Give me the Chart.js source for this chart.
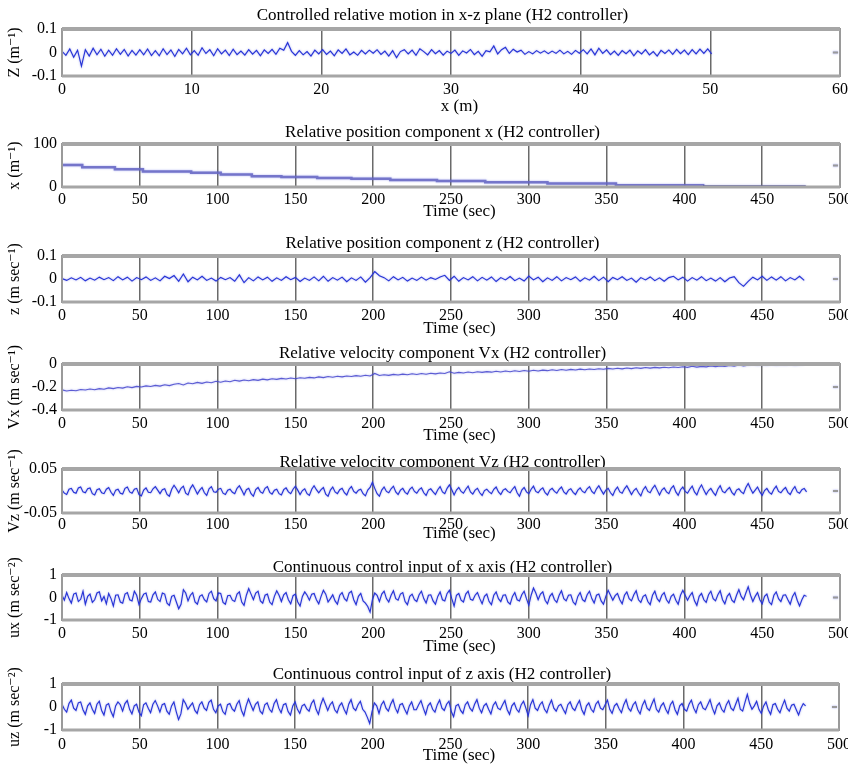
<!DOCTYPE html>
<html>
<head>
<meta charset="utf-8">
<title>H2 controller - relative motion</title>
<script src="https://cdn.jsdelivr.net/npm/chart.js@4.4.1/dist/chart.umd.min.js"></script>
<style>
    html, body { margin: 0; padding: 0; background: #fff; overflow: hidden; }
    #page { position: relative; width: 848px; height: 768px; overflow: hidden; }
    .panel { position: absolute; left: 0; }
</style>
</head>
<body>
<div id="page"></div>
<script>
// ---------------------------------------------------------------------------
// Data
// ---------------------------------------------------------------------------
const X_STEP = 0.3;       // spacing of samples along x (m) in the top plot
const T_STEP = 3;         // spacing of samples in time (sec), coarse series
const T_STEP_FINE = 1.5;  // spacing of samples in time (sec), dense series

// Z versus x, top plot
const zMotion = [
    0.005, -0.012, 0.015, -0.02, 0.01, -0.058, 0.012, -0.015, 0.018, -0.01,
    0.014, -0.016, 0.01, -0.012, 0.016, -0.008, 0.013, -0.015, 0.009, -0.011,
    0.012, -0.01, 0.015, -0.013, 0.008, -0.014, 0.016, -0.009, 0.011, -0.017,
    0.013, -0.006, 0.018, -0.01, 0.008, -0.012, 0.02, -0.004, 0.012, -0.014,
    0.016, -0.006, 0.01, -0.013, 0.014, -0.009, 0.006, -0.011, 0.012, -0.007,
    0.009, -0.014, 0.011, -0.004, 0.013, -0.008, 0.018, 0.01, 0.042, 0.005,
    -0.012, 0.008, -0.01, 0.004, -0.015, 0.01, -0.006, 0.012, -0.008, 0.006,
    -0.014, 0.011, -0.004, 0.015, -0.01, 0.002, -0.012, 0.009, -0.006, 0.01,
    -0.003, 0.012, -0.008, 0.006, -0.015, 0.008, -0.022, 0.004, 0.012, -0.006,
    0.01, -0.012, 0.016, 0.004, -0.01, 0.012, -0.005, 0.008, -0.011, 0.006,
    -0.004, 0.01, -0.012, 0.007, -0.002, 0.013, -0.009, 0.005, -0.016, 0.008,
    0.003, 0.028, -0.006, 0.012, 0.022, -0.004, 0.014, 0.002, 0.01, -0.008,
    0.004, -0.006, 0.008, -0.003, 0.007, -0.005, 0.006, -0.004, 0.01, -0.006,
    0.005, -0.008, 0.009, -0.003, 0.012, -0.006, 0.015, -0.01, 0.018, -0.004,
    0.011, -0.009, 0.006, -0.012, 0.008, -0.005, 0.01, -0.014, 0.007, -0.006,
    0.012, -0.01, 0.004, -0.015, 0.009, -0.004, 0.011, -0.008, 0.013, -0.005,
    0.01, -0.009, 0.012, -0.006, 0.014, -0.004, 0.015, -0.006
];

// relative position x: level changes (sec) and levels
const posTime = [0, 13, 34, 52, 83, 102, 122, 141, 164, 186, 211, 241, 272, 312, 356, 412, 478];
const posX    = [51, 46, 41, 36, 33, 29, 25, 23, 21, 19, 16, 14, 11, 8, 4, 0.5, 0.5];

// relative position z (every 3 s)
const posZ = [
    0.002, -0.006, 0.005, -0.004, 0.007, -0.008, 0.004, -0.005, 0.008, -0.003,
    0.006, -0.007, 0.01, -0.004, 0.008, -0.009, 0.006, -0.003, 0.009, -0.006,
    0.005, -0.008, 0.012, 0.002, 0.015, -0.01, 0.022, -0.012, 0.008, -0.004,
    0.012, -0.006, 0.004, -0.009, 0.007, -0.003, 0.006, -0.01, 0.018, -0.016,
    0.006, -0.008, 0.009, -0.004, 0.008, -0.01, 0.005, -0.006, 0.01, -0.003,
    0.007, -0.011, 0.004, -0.006, 0.009, -0.008, 0.012, -0.01, 0.006, -0.005,
    0.008, -0.012, 0.005, -0.006, 0.009, -0.014, 0.006, 0.032, 0.014, 0.006,
    -0.008, 0.01, -0.004, 0.007, -0.009, 0.004, -0.006, 0.008, -0.005, 0.006,
    -0.002, 0.009, 0.016, -0.006, 0.012, -0.01, 0.006, -0.004, 0.01, -0.008,
    0.007, -0.005, 0.009, -0.011, 0.006, -0.004, 0.011, -0.007, 0.004, -0.009,
    0.013, -0.004, 0.008, -0.012, 0.005, -0.006, 0.01, -0.008, 0.006, -0.003,
    0.009, -0.01, 0.005, -0.005, 0.012, -0.007, 0.008, -0.012, 0.007, -0.003,
    0.01, -0.006, 0.004, -0.014, 0.006, -0.004, 0.009, -0.007, 0.005, -0.01,
    0.006, 0.012, -0.004, 0.008, -0.009, 0.006, -0.005, 0.01, -0.007, 0.004,
    -0.009, 0.006, -0.012, 0.004, 0.01, -0.016, -0.032, -0.01, 0.008, -0.004,
    0.012, -0.006, 0.009, -0.005, 0.01, -0.008, 0.006, -0.004, 0.012, -0.006
];

// relative velocity Vx (every 3 s)
const velX = [
    -0.225, -0.235, -0.228, -0.232, -0.222, -0.226, -0.218, -0.224, -0.214, -0.22,
    -0.208, -0.214, -0.204, -0.21, -0.198, -0.205, -0.195, -0.2, -0.19, -0.196,
    -0.186, -0.192, -0.18, -0.188, -0.176, -0.17, -0.182, -0.165, -0.172, -0.16,
    -0.168, -0.157, -0.163, -0.15, -0.158, -0.148, -0.154, -0.142, -0.149, -0.139,
    -0.146, -0.136, -0.142, -0.132, -0.138, -0.128, -0.134, -0.125, -0.131, -0.122,
    -0.128, -0.119, -0.124, -0.116, -0.121, -0.112, -0.118, -0.109, -0.115, -0.106,
    -0.112, -0.104, -0.109, -0.101, -0.106, -0.098, -0.104, -0.082, -0.1, -0.094,
    -0.099, -0.09, -0.096, -0.088, -0.093, -0.085, -0.091, -0.083, -0.089, -0.08,
    -0.086, -0.078, -0.083, -0.068, -0.08, -0.073, -0.078, -0.07, -0.076, -0.068,
    -0.073, -0.066, -0.071, -0.063, -0.069, -0.061, -0.067, -0.059, -0.065, -0.057,
    -0.063, -0.055, -0.061, -0.053, -0.058, -0.05, -0.056, -0.048, -0.054, -0.047,
    -0.052, -0.045, -0.05, -0.043, -0.048, -0.041, -0.046, -0.038, -0.044, -0.037,
    -0.042, -0.035, -0.04, -0.033, -0.038, -0.031, -0.036, -0.029, -0.034, -0.028,
    -0.032, -0.026, -0.03, -0.024, -0.029, -0.02, -0.027, -0.021, -0.025, -0.018,
    -0.023, -0.016, -0.021, -0.012, -0.019, -0.008, -0.016, -0.01, -0.004, -0.012,
    -0.006, -0.013, -0.005, -0.012, -0.006, -0.011, -0.005, -0.012, -0.007, -0.004
];

// relative velocity Vz (every 1.5 s)
const velZ = [
    0.002, -0.005, -0.008, 0.004, 0.006, -0.003, -0.005, 0.007, 0.009, -0.002, -0.004, 0.005, 0.007, -0.006, -0.009, 0.003, 0.005, -0.004, -0.006, 0.004,
    0.008, -0.003, -0.01, 0.002, 0.004, -0.005, -0.007, 0.006, 0.009, -0.002, -0.005, 0.004, 0.006, -0.008, -0.011, 0.002, 0.007, -0.003, -0.004, 0.005,
    0.01, 0.002, -0.006, 0.003, 0.005, -0.008, -0.012, 0.004, 0.013, 0.005, -0.004, 0.006, 0.011, -0.005, -0.009, 0.006, 0.014, 0.004, -0.007, 0.002,
    0.008, -0.004, -0.01, 0.005, 0.01, -0.002, -0.003, 0.004, 0.006, -0.005, -0.008, 0.002, 0.004, -0.003, -0.006, 0.006, 0.012, 0.002, -0.009, 0.003,
    0.006, -0.006, -0.012, 0.003, 0.008, -0.002, -0.005, 0.006, 0.01, -0.003, -0.007, 0.002, 0.004, -0.006, -0.009, 0.003, 0.007, -0.002, -0.006, 0.004,
    0.011, 0.002, -0.008, 0.001, 0.005, -0.006, -0.01, 0.004, 0.012, 0.003, -0.004, 0.003, 0.008, -0.007, -0.012, 0.002, 0.009, -0.002, -0.006, 0.003,
    0.006, -0.004, -0.009, 0.004, 0.01, -0.001, -0.005, 0.002, 0.004, -0.006, -0.011, 0.002, 0.008, 0.02, 0.006, -0.006, -0.012, 0.002, 0.009, -0.001,
    -0.004, 0.005, 0.011, -0.002, -0.008, 0.002, 0.006, -0.003, -0.007, 0.004, 0.009, -0.001, -0.005, 0.003, 0.007, -0.004, -0.01, 0.002, 0.005, -0.002,
    -0.008, 0.003, 0.01, -0.002, -0.006, 0.006, 0.014, 0.003, -0.009, 0.002, 0.008, -0.001, -0.005, 0.004, 0.011, -0.002, -0.007, 0.002, 0.006, -0.004,
    -0.01, 0.001, 0.004, -0.002, -0.006, 0.004, 0.009, -0.002, -0.008, 0.002, 0.005, -0.001, -0.004, 0.004, 0.01, -0.004, -0.012, 0.002, 0.008, -0.002,
    -0.006, 0.004, 0.011, -0.001, -0.004, 0.003, 0.007, -0.004, -0.009, 0.002, 0.006, -0.001, -0.005, 0.004, 0.009, -0.002, -0.007, 0.002, 0.005, -0.003,
    -0.008, 0.002, 0.007, -0.001, -0.004, 0.005, 0.01, -0.001, -0.006, 0.005, 0.012, 0.002, -0.007, 0.002, 0.006, -0.004, -0.01, 0.002, 0.009, -0.002,
    -0.005, 0.005, 0.012, 0.002, -0.008, 0.001, 0.006, -0.004, -0.011, 0.003, 0.01, -0.001, -0.004, 0.006, 0.013, 0.002, -0.009, 0.002, 0.007, -0.002,
    -0.006, 0.006, 0.012, -0.002, -0.01, 0.003, 0.009, -0.001, -0.005, 0.004, 0.011, -0.002, -0.009, 0.005, 0.014, 0.002, -0.008, 0.001, 0.006, -0.003,
    -0.01, 0.004, 0.012, -0.001, -0.004, 0.003, 0.008, -0.003, -0.009, 0.002, 0.005, -0.002, -0.006, 0.008, 0.017, 0.005, -0.005, 0.002, 0.009, -0.002,
    -0.01, 0.001, 0.006, -0.003, -0.007, 0.004, 0.011, -0.001, -0.004, 0.003, 0.008, -0.003, -0.008, 0.003, 0.01, -0.002, -0.005, 0.003, 0.006, -0.002
];

// continuous control input, x axis (every 1.5 s)
const ctrlX = [
    0.1, -0.12, 0.22, -0.05, -0.25, 0.15, 0.2, -0.18, -0.08, 0.28, -0.3, 0.05, 0.15, -0.22, -0.1, 0.2, 0.25, -0.15, 0.05, -0.28,
    0.18, -0.05, -0.38, 0.1, 0.12, -0.2, -0.25, 0.15, 0.22, -0.1, -0.15, 0.28, 0.1, -0.32, -0.05, 0.15, 0.2, -0.18, -0.2, 0.12,
    0.25, -0.08, -0.18, 0.2, 0.15, -0.25, -0.35, 0.05, 0.1, -0.2, -0.5, -0.3, 0.35, 0.2, -0.15, 0.1, 0.22, -0.2, -0.3, 0.05,
    0.12, -0.1, -0.2, 0.18, 0.28, -0.05, -0.15, 0.2, 0.18, -0.22, -0.3, 0.08, 0.1, -0.12, -0.18, 0.15, 0.25, -0.2, -0.35, 0.1,
    0.4, 0.15, -0.1, 0.2, 0.28, -0.15, -0.25, 0.1, 0.15, -0.2, -0.32, 0.05, 0.3, 0.1, -0.18, 0.12, 0.22, -0.1, -0.28, 0.08,
    0.15, -0.2, -0.38, 0.05, 0.25, 0.1, -0.12, 0.15, 0.18, -0.1, -0.28, 0.05, 0.32, 0.15, -0.2, -0.05, 0.12, -0.15, -0.3, 0.1,
    0.22, -0.05, -0.15, 0.2, 0.28, -0.1, -0.32, 0.05, 0.18, -0.15, -0.25, -0.4, -0.65, -0.1, 0.2, 0.1, -0.18, 0.15, 0.28, -0.05,
    -0.2, 0.1, 0.3, -0.05, -0.12, 0.15, 0.22, -0.18, -0.32, 0.05, 0.15, -0.1, -0.18, 0.12, 0.28, -0.05, -0.25, 0.1, 0.12, -0.15,
    -0.3, 0.05, 0.25, -0.1, -0.15, 0.18, 0.32, -0.05, -0.38, 0.1, 0.18, -0.12, -0.2, 0.15, 0.28, -0.08, -0.12, 0.1, 0.22, -0.05,
    -0.28, 0.05, 0.15, -0.18, -0.32, 0.1, 0.25, -0.05, -0.18, 0.1, 0.12, -0.2, -0.3, 0.05, 0.22, -0.1, -0.15, 0.12, 0.28, -0.05,
    -0.35, 0.1, 0.42, 0.2, -0.1, 0.15, 0.25, -0.12, -0.28, 0.05, 0.18, -0.1, -0.22, 0.1, 0.3, -0.05, -0.15, 0.1, 0.12, -0.2,
    -0.32, 0.05, 0.22, -0.1, -0.18, 0.12, 0.28, -0.05, -0.25, 0.1, 0.15, -0.15, -0.3, 0.05, 0.32, 0.1, -0.12, 0.08, 0.18, -0.1,
    -0.28, 0.1, 0.25, -0.05, -0.15, 0.12, 0.3, -0.1, -0.22, 0.05, 0.12, -0.18, -0.32, 0.1, 0.28, -0.05, -0.18, 0.1, 0.22, -0.1,
    -0.25, 0.05, 0.15, -0.12, -0.3, 0.1, 0.32, 0.1, -0.12, 0.08, 0.22, -0.15, -0.35, 0.05, 0.18, -0.1, -0.22, 0.12, 0.28, -0.05,
    -0.15, 0.12, 0.3, -0.1, -0.28, 0.05, 0.18, -0.12, -0.22, 0.1, 0.35, 0.05, -0.1, 0.2, 0.48, 0.1, -0.18, 0.05, 0.22, -0.1,
    -0.28, 0.05, 0.15, -0.2, -0.32, 0.1, 0.25, -0.05, -0.18, 0.1, 0.12, -0.1, -0.3, 0.05, 0.22, -0.12, -0.38, -0.1, 0.1, 0.05
];

// continuous control input, z axis (every 1.5 s)
const ctrlZ = [
    0.12, -0.1, -0.22, 0.15, 0.3, -0.05, -0.15, 0.18, 0.22, -0.12, -0.32, 0.05, 0.18, -0.1, -0.28, 0.12, 0.25, -0.15, -0.35, 0.08,
    0.15, -0.2, -0.42, 0.05, 0.22, 0.1, -0.18, 0.15, 0.28, -0.1, -0.3, 0.05, 0.12, -0.22, -0.38, 0.1, 0.18, -0.05, -0.25, 0.12,
    0.28, 0.05, -0.22, 0.1, 0.15, -0.18, -0.32, 0.05, 0.22, -0.2, -0.55, -0.3, 0.32, 0.15, -0.1, 0.05, 0.18, -0.15, -0.28, 0.1,
    0.22, -0.05, -0.15, 0.2, 0.3, -0.1, -0.25, 0.05, 0.12, -0.2, -0.32, 0.1, 0.15, -0.08, -0.18, 0.12, 0.28, -0.15, -0.38, 0.05,
    0.35, 0.1, -0.15, 0.12, 0.22, -0.18, -0.3, 0.1, 0.18, -0.1, -0.22, 0.15, 0.32, -0.05, -0.25, 0.1, 0.15, -0.2, -0.35, 0.05,
    0.22, -0.1, -0.28, 0.05, 0.12, -0.08, -0.18, 0.15, 0.3, -0.1, -0.32, 0.1, 0.38, 0.12, -0.15, 0.1, 0.22, -0.12, -0.25, 0.05,
    0.18, -0.1, -0.3, 0.12, 0.32, -0.05, -0.15, 0.1, 0.25, -0.1, -0.22, -0.45, -0.72, -0.2, 0.18, 0.05, -0.28, 0.1, 0.25, -0.05,
    -0.18, 0.12, 0.32, -0.05, -0.25, 0.1, 0.15, -0.1, -0.3, 0.05, 0.22, -0.12, -0.12, 0.1, 0.28, -0.05, -0.32, 0.05, 0.18, -0.1,
    -0.22, 0.1, 0.3, -0.05, -0.15, 0.12, 0.25, -0.2, -0.42, 0.05, 0.12, -0.15, -0.28, 0.1, 0.22, -0.05, -0.18, 0.12, 0.32, -0.05,
    -0.25, 0.05, 0.15, -0.1, -0.3, 0.08, 0.22, -0.05, -0.12, 0.1, 0.28, -0.12, -0.32, 0.05, 0.18, -0.1, -0.22, 0.1, 0.25, -0.05,
    -0.38, 0.1, 0.32, -0.05, -0.15, 0.1, 0.22, -0.1, -0.25, 0.08, 0.3, -0.05, -0.18, 0.05, 0.12, -0.1, -0.28, 0.1, 0.22, -0.05,
    -0.15, 0.1, 0.28, -0.12, -0.32, 0.05, 0.18, -0.1, -0.22, 0.12, 0.25, -0.05, -0.12, 0.1, 0.3, -0.1, -0.28, 0.05, 0.15, -0.08,
    -0.25, 0.1, 0.32, -0.05, -0.18, 0.1, 0.22, -0.12, -0.3, 0.08, 0.28, -0.05, -0.15, 0.12, 0.35, -0.1, -0.22, 0.05, 0.18, -0.1,
    -0.28, 0.1, 0.25, -0.12, -0.32, 0.05, 0.15, -0.1, -0.18, 0.12, 0.3, -0.05, -0.25, 0.1, 0.22, -0.05, -0.12, 0.1, 0.32, -0.05,
    -0.3, 0.05, 0.18, -0.1, -0.22, 0.1, 0.28, -0.05, -0.15, 0.12, 0.38, -0.1, -0.18, 0.2, 0.55, 0.15, -0.1, 0.05, 0.25, -0.1,
    -0.28, 0.05, 0.22, -0.12, -0.32, 0.1, 0.15, -0.1, -0.25, 0.05, 0.3, -0.05, -0.18, 0.08, 0.12, -0.12, -0.35, -0.05, 0.15, 0.05
];

// small gray dash near the right edge of every axes
const edgeMarkDist = [59.45, 59.85];
const edgeMarkTime = [495.5, 498.7];

// tick labels
const distTicks = [0, 10, 20, 30, 40, 50, 60];
const timeTicks = [0, 50, 100, 150, 200, 250, 300, 350, 400, 450, 500];
const tenthTicks = [-0.1, 0, 0.1];
const posXTicks = [0, 50, 100];
const velXTicks = [-0.4, -0.2, 0];
const velZTicks = [-0.05, 0, 0.05];
const unitTicks = [-1, 0, 1];

// ---------------------------------------------------------------------------
// Layout helpers
// ---------------------------------------------------------------------------
const SERIF = '"Liberation Serif", "Times New Roman", "DejaVu Serif", serif';
const TICK_SIZE = 16;
const TITLE_SIZE = 17;
const CANVAS_W = 856;
const PAD_RIGHT = 16;
const HEAD = 30;        // space above each plot box
const FOOT = 44;        // x-axis band below each plot box
const Y_BAND = 62;      // y-axis band to the left of each plot box
const LINE_BLUE = '#2633d6';
// titles sit a little left of the box centre, axis labels a little right
const NUDGE = '    ';

const toPoints = (xs, ys) => ys.map((y, i) => ({ x: xs[i], y: y }));
const stepGrid = (n, step) => Array.from({ length: n }, (_, i) => +(i * step).toFixed(3));

// soft halo on the traces, then a gray box around each axes
const framePlugin = {
    id: 'frame',
    beforeDatasetsDraw(chart) {
        const ctx = chart.ctx;
        ctx.save();
        ctx.shadowColor = 'rgba(50,60,220,0.5)';
        ctx.shadowBlur = 2;
    },
    afterDatasetsDraw(chart) {
        const { ctx, chartArea: a } = chart;
        ctx.restore();
        ctx.save();
        ctx.strokeStyle = '#9a9a9a';
        ctx.lineWidth = 2;
        ctx.strokeRect(a.left, a.top, a.right - a.left, a.bottom - a.top);
        ctx.strokeStyle = '#a6a6a6';
        ctx.lineWidth = 4;
        ctx.beginPath();
        ctx.moveTo(a.left, a.top);
        ctx.lineTo(a.right, a.top);
        ctx.stroke();
        ctx.lineWidth = 3;
        ctx.beginPath();
        ctx.moveTo(a.left, a.bottom);
        ctx.lineTo(a.right, a.bottom);
        ctx.stroke();
        ctx.restore();
    }
};

function makePanel(p) {
    const plotH = p.bottom - p.top;
    const height = HEAD + plotH + FOOT;

    const box = document.createElement('div');
    box.className = 'panel';
    box.style.top = (p.top - HEAD) + 'px';
    box.style.width = CANVAS_W + 'px';
    box.style.height = height + 'px';
    const canvas = document.createElement('canvas');
    canvas.width = CANVAS_W;
    canvas.height = height;
    box.appendChild(canvas);
    document.getElementById('page').appendChild(box);

    const titleLine = TITLE_SIZE * 0.8;
    const labelLine = TITLE_SIZE * 1.2;
    const titlePadBottom = Math.max(0, p.titleGap - titleLine / 2);
    const xMax = p.xTicks[p.xTicks.length - 1];
    const yMid = (p.yTicks[0] + p.yTicks[p.yTicks.length - 1]) / 2;
    const tickFont = { family: SERIF, size: TICK_SIZE, weight: 'normal' };
    const labelFont = { family: SERIF, size: TITLE_SIZE, weight: 'normal' };

    return new Chart(canvas, {
        type: 'line',
        data: {
            datasets: [
                Object.assign({
                    data: p.points,
                    borderColor: LINE_BLUE,
                    borderWidth: 1.1,
                    pointRadius: 0,
                    tension: 0
                }, p.lineStyle || {}),
                {
                    data: p.edgeMark.map(x => ({ x: x, y: yMid })),
                    borderColor: '#9a9a9a',
                    borderWidth: 2,
                    pointRadius: 0
                }
            ]
        },
        options: {
            responsive: false,
            animation: false,
            devicePixelRatio: 1,
            layout: { padding: { top: HEAD - titleLine - titlePadBottom, right: PAD_RIGHT, bottom: 0, left: 0 } },
            plugins: {
                legend: { display: false },
                tooltip: { enabled: false },
                title: {
                    display: true,
                    fullSize: false,
                    text: p.title + NUDGE,
                    color: '#000',
                    font: { family: SERIF, size: TITLE_SIZE, weight: 'normal', lineHeight: 0.8 },
                    padding: { top: 0, bottom: titlePadBottom }
                }
            },
            scales: {
                x: {
                    type: 'linear',
                    min: 0,
                    max: xMax,
                    afterBuildTicks: s => { s.ticks = p.xTicks.map(v => ({ value: v })); },
                    afterFit: s => { s.height = FOOT; },
                    border: { display: false },
                    grid: {
                        drawTicks: false,
                        lineWidth: 1.5,
                        color: c => (c.tick && (c.tick.value === 0 || c.tick.value === xMax)) ? 'rgba(0,0,0,0)' : '#6a6a6a'
                    },
                    ticks: {
                        color: '#000',
                        font: tickFont,
                        padding: p.tickGap - 8,
                        autoSkip: false,
                        maxRotation: 0,
                        callback: v => String(v)
                    },
                    title: {
                        display: true,
                        text: NUDGE + p.xTitle,
                        color: '#000',
                        font: labelFont,
                        padding: { top: 0, bottom: FOOT - labelLine / 2 - p.xTitleGap }
                    }
                },
                y: {
                    min: p.yTicks[0],
                    max: p.yTicks[p.yTicks.length - 1],
                    afterBuildTicks: s => { s.ticks = p.yTicks.map(v => ({ value: v })); },
                    afterFit: s => { s.width = Y_BAND; },
                    border: { display: false },
                    grid: { display: false, drawTicks: false },
                    ticks: {
                        color: '#000',
                        font: tickFont,
                        padding: 5,
                        callback: v => String(v)
                    },
                    title: {
                        display: true,
                        text: p.yTitle,
                        color: '#000',
                        font: tickFont,
                        padding: { top: 5, bottom: 0 }
                    }
                }
            }
        },
        plugins: [framePlugin]
    });
}

// ---------------------------------------------------------------------------
// Build the seven stacked plots
// ---------------------------------------------------------------------------
const distGrid = stepGrid(zMotion.length, X_STEP);
const timeGrid = stepGrid(posZ.length, T_STEP);
const fineGrid = stepGrid(ctrlX.length, T_STEP_FINE);

const panels = [
    {
        title: 'Controlled relative motion in x-z plane (H2 controller)',
        xTitle: 'x (m)', yTitle: 'Z (m\u207B\u00B9)',
        points: toPoints(distGrid, zMotion), xTicks: distTicks, yTicks: tenthTicks,
        edgeMark: edgeMarkDist,
        top: 29, bottom: 76, titleGap: 13, tickGap: 12, xTitleGap: 31
    },
    {
        title: 'Relative position component x (H2 controller)',
        xTitle: 'Time (sec)', yTitle: 'x (m\u207B\u00B9)',
        points: toPoints(posTime, posX), xTicks: timeTicks, yTicks: posXTicks,
        edgeMark: edgeMarkTime,
        lineStyle: {
            stepped: 'before',
            borderColor: 'rgba(105,105,195,0.85)',
            borderWidth: 2.5,
            segment: { borderColor: c => c.p0.parsed.x >= 412 ? '#161670' : undefined }
        },
        top: 144, bottom: 187, titleGap: 11, tickGap: 11, xTitleGap: 25
    },
    {
        title: 'Relative position component z (H2 controller)',
        xTitle: 'Time (sec)', yTitle: 'z (m sec\u207B\u00B9)',
        points: toPoints(timeGrid, posZ), xTicks: timeTicks, yTicks: tenthTicks,
        edgeMark: edgeMarkTime,
        top: 256, bottom: 302, titleGap: 12, tickGap: 12, xTitleGap: 27
    },
    {
        title: 'Relative velocity component Vx (H2 controller)',
        xTitle: 'Time (sec)', yTitle: 'Vx (m sec\u207B\u00B9)',
        points: toPoints(timeGrid, velX), xTicks: timeTicks, yTicks: velXTicks,
        edgeMark: edgeMarkTime,
        lineStyle: { borderColor: 'rgba(70,70,205,0.85)', borderWidth: 1.1 },
        top: 364, bottom: 410, titleGap: 10, tickGap: 12, xTitleGap: 26
    },
    {
        title: 'Relative velocity component Vz (H2 controller)',
        xTitle: 'Time (sec)', yTitle: 'Vz (m sec\u207B\u00B9)',
        points: toPoints(fineGrid, velZ), xTicks: timeTicks, yTicks: velZTicks,
        edgeMark: edgeMarkTime,
        top: 469, bottom: 513, titleGap: 6, tickGap: 10, xTitleGap: 21
    },
    {
        title: 'Continuous control input of x axis (H2 controller)',
        xTitle: 'Time (sec)', yTitle: 'ux (m sec\u207B\u00B2)',
        points: toPoints(fineGrid, ctrlX), xTicks: timeTicks, yTicks: unitTicks,
        edgeMark: edgeMarkTime,
        top: 575, bottom: 620, titleGap: 7, tickGap: 12, xTitleGap: 27
    },
    {
        title: 'Continuous control input of z axis (H2 controller)',
        xTitle: 'Time (sec)', yTitle: 'uz (m sec\u207B\u00B2)',
        points: toPoints(fineGrid, ctrlZ), xTicks: timeTicks, yTicks: unitTicks,
        edgeMark: edgeMarkTime,
        top: 684, bottom: 730, titleGap: 9, tickGap: 13, xTitleGap: 26
    }
];

panels.forEach(makePanel);
</script>
</body>
</html>
